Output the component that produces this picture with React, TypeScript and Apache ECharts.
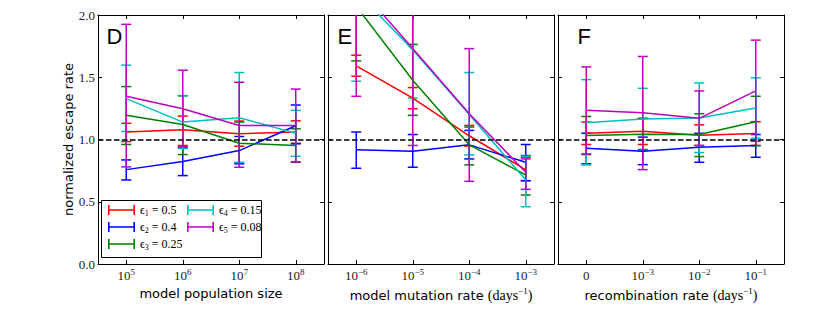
import React, { useEffect, useRef } from 'react';
import * as echarts from 'echarts';

// ---------- data ----------
const seriesNames = ['eps1', 'eps2', 'eps3', 'eps4', 'eps5'];
const epsIndex = ['1', '2', '3', '4', '5'];
const epsValues = ['0.5', '0.4', '0.25', '0.15', '0.08'];
const seriesColors = ['#ff0000', '#0000ff', '#008000', '#00bfbf', '#bf00bf'];

const popTicks = ['10^5', '10^6', '10^7', '10^8'];
const mutTicks = ['10^−6', '10^−5', '10^−4', '10^−3'];
const recTicks = ['0', '10^−3', '10^−2', '10^−1'];
const yTicks = [0, 0.5, 1, 1.5, 2];

// panel D: model population size
const popMean = [
  [1.06, 1.078, 1.046, 1.06],
  [0.758, 0.823, 0.911, 1.11],
  [1.194, 1.121, 0.97, 0.952],
  [1.328, 1.14, 1.175, 1.05],
  [1.347, 1.247, 1.113, 1.113],
];
const popLow = [
  [0.984, 0.952, 0.946, 0.97],
  [0.675, 0.71, 0.804, 0.965],
  [0.96, 0.879, 0.812, 0.82],
  [1.065, 0.927, 0.817, 0.865],
  [0.78, 0.944, 0.777, 0.817],
];
const popHigh = [
  [1.13, 1.188, 1.148, 1.15],
  [0.836, 0.933, 1.024, 1.277],
  [1.425, 1.352, 1.14, 1.086],
  [1.597, 1.35, 1.538, 1.234],
  [1.925, 1.556, 1.46, 1.405],
];

// panel E: model mutation rate
const mutMean = [
  [1.591, 1.333, 1.03, 0.756],
  [0.917, 0.906, 0.957, 0.817],
  [2.07, 1.476, 0.957, 0.715],
  [2.19, 1.72, 1.2, 0.675],
  [2.25, 1.73, 1.207, 0.737],
];
const mutLow = [
  [1.508, 1.247, 0.947, 0.669],
  [0.769, 0.777, 0.844, 0.669],
  [1.631, 1.194, 0.796, 0.554],
  [1.468, 1.333, 0.877, 0.46],
  [1.347, 0.952, 0.664, 0.6],
];
const mutHigh = [
  [1.677, 1.417, 1.113, 0.857],
  [1.06, 1.04, 1.073, 0.96],
  [2.51, 1.764, 1.1, 0.871],
  [2.91, 2.11, 1.538, 0.863],
  [3.15, 2.51, 1.73, 0.844],
];

// panel F: recombination rate
const recMean = [
  [1.051, 1.067, 1.035, 1.048],
  [0.93, 0.906, 0.938, 0.952],
  [1.032, 1.043, 1.04, 1.143],
  [1.134, 1.164, 1.172, 1.253],
  [1.234, 1.215, 1.17, 1.39],
];
const recLow = [
  [0.96, 0.96, 0.952, 0.953],
  [0.804, 0.798, 0.817, 0.857],
  [0.879, 0.92, 0.863, 0.95],
  [0.796, 0.911, 0.895, 1.01],
  [0.884, 0.758, 0.952, 0.986],
];
const recHigh = [
  [1.14, 1.17, 1.118, 1.143],
  [1.05, 1.019, 1.05, 1.04],
  [1.185, 1.169, 1.207, 1.347],
  [1.481, 1.411, 1.454, 1.495],
  [1.583, 1.667, 1.39, 1.798],
];

const panelLetters = ['D', 'E', 'F'];

// ---------- layout / style ----------
const SERIF = '"Liberation Serif", "DejaVu Serif", serif';
const SANS = '"DejaVu Sans", "Liberation Sans", sans-serif';
const LETTER_FONT = '"Liberation Sans", "DejaVu Sans", sans-serif';
const gridLefts = [98, 328, 558];
const GRID_TOP = 15;
const GRID_W = 226;
const GRID_H = 249;
const letterX = [106.5, 337.5, 577.5];

const tickFormatter = (v: string) => {
  const parts = v.split('^');
  return parts.length > 1 ? `{b|${parts[0]}}{s|${parts[1]}}` : `{b|${parts[0]}}`;
};

const tickRich = {
  b: { fontFamily: SERIF, fontSize: 13, color: '#222', lineHeight: 17 },
  s: { fontFamily: SERIF, fontSize: 9, color: '#222', verticalAlign: 'top', lineHeight: 10 },
};

const nameRich = {
  m: { fontFamily: SERIF, fontSize: 14, color: '#000', lineHeight: 18 },
  ms: { fontFamily: SERIF, fontSize: 9, color: '#000', verticalAlign: 'top', lineHeight: 10 },
};

const HICON = 'path://M0,0h1.6v10h-1.6z M0,4.25h27v1.5h-27z M25.4,0h1.6v10h-1.6z';

export default function App() {
  const ref = useRef<HTMLDivElement>(null);

  useEffect(() => {
    if (!ref.current) return;
    const chart = echarts.init(ref.current, undefined, { renderer: 'svg' });

    const panels = [
      { ticks: popTicks, mean: popMean, low: popLow, high: popHigh, name: 'model population size' },
      { ticks: mutTicks, mean: mutMean, low: mutLow, high: mutHigh, name: 'model mutation rate {m|(days}{ms|−1}{m|)}' },
      { ticks: recTicks, mean: recMean, low: recLow, high: recHigh, name: 'recombination rate {m|(days}{ms|−1}{m|)}' },
    ];

    const grid: any[] = [];
    const xAxis: any[] = [];
    const yAxis: any[] = [];
    const series: any[] = [];

    const axisLine = { show: true, onZero: false, lineStyle: { color: '#000', width: 1 } };

    panels.forEach((p, g) => {
      grid.push({ left: gridLefts[g], top: GRID_TOP, width: GRID_W, height: GRID_H });
      xAxis.push({
        type: 'category',
        gridIndex: g,
        position: 'bottom',
        data: p.ticks,
        axisLine,
        axisTick: { show: true, inside: true, alignWithLabel: true, interval: 0, length: 4, lineStyle: { color: '#000' } },
        axisLabel: { formatter: tickFormatter, rich: tickRich, margin: 3, interval: 0, hideOverlap: false },
        splitLine: { show: false },
        name: p.name,
        nameLocation: 'middle',
        nameGap: 18,
        nameTextStyle: { fontFamily: SANS, fontSize: 13, color: '#000', rich: nameRich },
      });
      xAxis.push({
        type: 'category',
        gridIndex: g,
        position: 'top',
        data: p.ticks,
        axisLine,
        axisTick: { show: true, inside: true, alignWithLabel: true, interval: 0, length: 4, lineStyle: { color: '#000' } },
        axisLabel: { show: false },
        splitLine: { show: false },
      });
      yAxis.push({
        type: 'value',
        gridIndex: g,
        position: 'left',
        min: yTicks[0],
        max: yTicks[yTicks.length - 1],
        interval: 0.5,
        axisLine,
        axisTick: { show: true, inside: true, length: 4, lineStyle: { color: '#000' } },
        axisLabel: {
          show: g === 0,
          formatter: (v: number) => v.toFixed(1),
          fontFamily: SERIF,
          fontSize: 13,
          color: '#222',
          margin: 3,
        },
        splitLine: { show: false },
        name: g === 0 ? 'normalized escape rate' : '',
        nameLocation: 'middle',
        nameGap: 21,
        nameTextStyle: { fontFamily: SANS, fontSize: 13, color: '#000' },
      });
      yAxis.push({
        type: 'value',
        gridIndex: g,
        position: 'right',
        min: yTicks[0],
        max: yTicks[yTicks.length - 1],
        interval: 0.5,
        axisLine,
        axisTick: { show: true, inside: true, length: 4, lineStyle: { color: '#000' } },
        axisLabel: { show: false },
        splitLine: { show: false },
      });

      seriesNames.forEach((sn, k) => {
        const color = seriesColors[k];
        series.push({
          type: 'line',
          name: `${sn}-mean`,
          xAxisIndex: 2 * g,
          yAxisIndex: 2 * g,
          data: p.mean[k],
          symbol: 'none',
          clip: true,
          lineStyle: { color, width: 1.5 },
          itemStyle: { color },
          z: 2,
        });
        series.push({
          type: 'custom',
          name: sn,
          xAxisIndex: 2 * g,
          yAxisIndex: 2 * g,
          itemStyle: { color },
          data: p.ticks.map((_t, i) => [i, p.low[k][i], p.high[k][i]]),
          encode: { x: 0, y: [1, 2] },
          z: 2,
          renderItem: (params: any, api: any) => {
            const i = api.value(0);
            const pLo = api.coord([i, api.value(1)]);
            const pHi = api.coord([i, api.value(2)]);
            const cs = params.coordSys;
            const top = cs.y;
            const bottom = cs.y + cs.height;
            const x = pLo[0];
            const yHi = Math.max(pHi[1], top);
            const yLo = Math.min(pLo[1], bottom);
            const st = { stroke: color, lineWidth: 1.5, fill: 'none' };
            const children: any[] = [
              { type: 'line', shape: { x1: x, y1: yLo, x2: x, y2: yHi }, style: st },
            ];
            const hw = 5;
            if (pHi[1] >= top) children.push({ type: 'line', shape: { x1: x - hw, y1: pHi[1], x2: x + hw, y2: pHi[1] }, style: st });
            if (pLo[1] <= bottom) children.push({ type: 'line', shape: { x1: x - hw, y1: pLo[1], x2: x + hw, y2: pLo[1] }, style: st });
            return { type: 'group', children };
          },
        });
      });

      series.push({
        type: 'line',
        name: `ref-${g}`,
        xAxisIndex: 2 * g,
        yAxisIndex: 2 * g,
        data: [],
        z: 10,
        markLine: {
          silent: true,
          symbol: ['none', 'none'],
          label: { show: false },
          lineStyle: { color: '#000', type: [5.5, 2.5], width: 1.5 },
          data: [{ yAxis: 1 }],
        },
      });
    });

    const legendFormatter = (name: string) => {
      const k = seriesNames.indexOf(name);
      return `{e|ϵ}{sub|${epsIndex[k]}}{t| = ${epsValues[k]}}`;
    };
    const legendText = {
      fontFamily: SERIF,
      fontSize: 12,
      color: '#000',
      rich: {
        e: { fontFamily: SERIF, fontSize: 12, color: '#000', lineHeight: 14 },
        sub: { fontFamily: SERIF, fontSize: 8, color: '#000', verticalAlign: 'bottom', lineHeight: 9 },
        t: { fontFamily: SERIF, fontSize: 12, color: '#000', lineHeight: 14 },
      },
    };
    const legendBase = {
      orient: 'vertical',
      itemGap: 4,
      itemWidth: 27,
      itemHeight: 10,
      padding: 0,
      icon: HICON,
      z: 5,
      formatter: legendFormatter,
      textStyle: legendText,
      selectedMode: false,
    };

    chart.setOption({
      animation: false,
      grid,
      xAxis,
      yAxis,
      series,
      legend: [
        { ...legendBase, left: 108, top: 204, data: seriesNames.slice(0, 3) },
        { ...legendBase, left: 187, top: 204, data: seriesNames.slice(3) },
      ],
      graphic: [
        {
          type: 'rect',
          z: 3,
          shape: { x: 101.5, y: 200.5, width: 160, height: 57 },
          style: { fill: '#fff', stroke: '#000', lineWidth: 1 },
        },
        ...panelLetters.map((L, g) => ({
          type: 'text',
          z: 5,
          x: letterX[g],
          y: 25,
          style: { text: L, font: `22px ${LETTER_FONT}`, fill: '#000', textVerticalAlign: 'top' },
        })),
      ],
    });

    return () => chart.dispose();
  }, []);

  return (
    <div
      ref={ref}
      style={{ position: 'fixed', left: 0, top: 0, width: 826, height: 310, background: '#fff' }}
    />
  );
}
